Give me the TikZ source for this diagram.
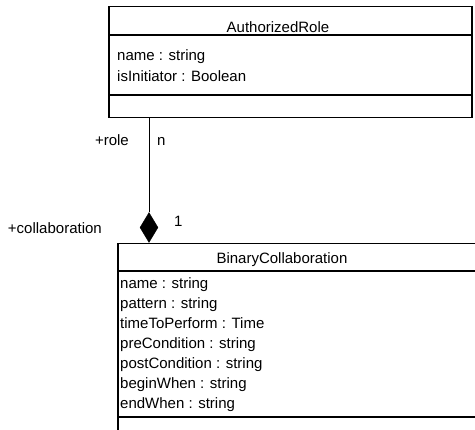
\documentclass[tikz,border=0pt]{standalone}
\usepackage{fontspec}
\setmainfont{Liberation Sans}
\usetikzlibrary{shapes.geometric}
\begin{document}
\begin{tikzpicture}[x=1pt,y=1pt,
  classbox/.style={draw, line width=1.5pt, rectangle, inner sep=0pt, anchor=north west},
  divider/.style={line width=1.5pt},
  txt/.style={inner sep=0pt, font=\fontsize{15}{18}\selectfont},
  attr/.style={txt, anchor=base west},
  cname/.style={txt, anchor=base},
  assoc/.style={line width=1pt},
  aggmark/.style={diamond, fill=black, draw=black, inner sep=0pt,
    minimum width=18pt, minimum height=30pt, shape aspect=0.6}]
\useasboundingbox (0,0) rectangle (475,-430);

% class AuthorizedRole
\node[classbox, minimum width=363pt, minimum height=111pt] (role) at (108,-6) {};
\draw[divider] ([yshift=-29pt]role.north west) -- ([yshift=-29pt]role.north east);
\draw[divider] ([yshift=-89pt]role.north west) -- ([yshift=-89pt]role.north east);
\node[cname] (roleName) at (278,-33) {AuthorizedRole};
\node[attr] (roleA1) at (117,-61) {name : string};
\node[attr] (roleA2) at (117,-82) {isInitiator : Boolean};

% class BinaryCollaboration (runs past the right and bottom edges)
\node[classbox, minimum width=380pt, minimum height=220pt] (collab) at (117,-243) {};
\draw[divider] ([yshift=-28pt]collab.north west) -- ([yshift=-28pt]collab.north east);
\draw[divider] ([yshift=-174pt]collab.north west) -- ([yshift=-174pt]collab.north east);
\node[cname] (collabName) at (282,-264) {BinaryCollaboration};
\node[attr] (cA1) at (120,-289) {name : string};
\node[attr] (cA2) at (120,-309) {pattern : string};
\node[attr] (cA3) at (120,-329) {timeToPerform : Time};
\node[attr] (cA4) at (120,-349) {preCondition : string};
\node[attr] (cA5) at (120,-369) {postCondition : string};
\node[attr] (cA6) at (120,-389) {beginWhen : string};
\node[attr] (cA7) at (120,-409) {endWhen : string};

% composition between the two classes
\node[aggmark] (agg) at (149,-227.5) {};
\draw[assoc] (role.south -| agg.north) -- (agg.north);

% role names and multiplicities
\node[txt, anchor=base east] (roleEnd) at (129,-146) {+role};
\node[txt, anchor=base west] (roleMult) at (157,-146) {n};
\node[txt, anchor=base east] (collabEnd) at (102,-234) {+collaboration};
\node[txt, anchor=base west] (collabMult) at (174,-227) {1};
\end{tikzpicture}
\end{document}
